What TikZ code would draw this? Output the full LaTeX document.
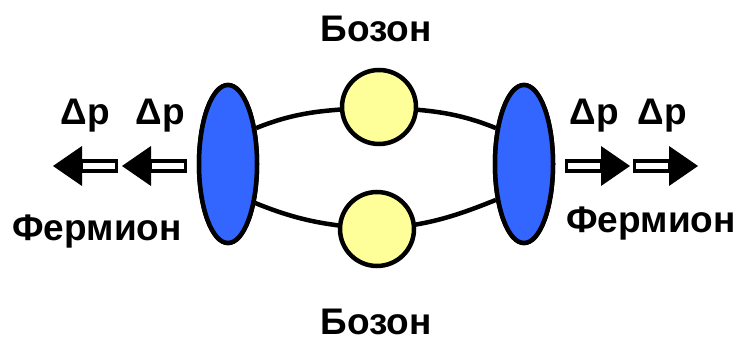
\documentclass[tikz,border=0pt]{standalone}
\usepackage{fontspec}
\setmainfont{Liberation Sans}
\usetikzlibrary{shapes.geometric}
\definecolor{vertexblue}{HTML}{3366FF}
\definecolor{bosonyellow}{HTML}{FFFF99}
\begin{document}
\begin{tikzpicture}[x=1pt,y=1pt,
  vertex/.style={ellipse,draw=black,line width=4.5pt,fill=vertexblue,inner sep=0pt,
    minimum width=58pt,minimum height=158pt},
  boson/.style={circle,draw=black,line width=4.5pt,fill=bosonyellow,inner sep=0pt,
    minimum size=74pt},
  line/.style={line width=4.5pt},
  label/.style={font=\fontsize{37}{44}\selectfont\bfseries,inner sep=0pt},
  kick/.pic={
    \draw[line width=3.5pt,fill=white] (-63.5,-5) rectangle (-28,5);
    \fill (-29,-20) -- (0,0) -- (-29,20) -- cycle;
  }]
\useasboundingbox (0,0) rectangle (741,340);

% propagator lines between the vertices, through the two bosons
\coordinate (B1p) at (379,233);
\coordinate (B2p) at (377,111);
\node[vertex] (L) at (228,176) {};
\node[vertex] (R) at (524,176) {};
\draw[line] (L.52) to[out=22,in=184] (B1p);
\draw[line] (B1p) to[out=-4,in=158] (R.128);
\draw[line] (L.-55) to[out=-22,in=176] (B2p);
\draw[line] (B2p) to[out=4,in=202] (R.-128);
\node[vertex] at (228,176) {};
\node[vertex] at (524,176) {};
\node[boson] (B1) at (B1p) {};
\node[boson] (B2) at (B2p) {};

% labels
\node[label] (bt) at (376,311) {Бозон};
\node[label] (bb) at (376,18) {Бозон};
\node[label,anchor=base] (fl) at (97,99) {Фермион};
\node[label,anchor=base] (fr) at (651,107) {Фермион};
\node[label,anchor=base] (pl1) at (85,215) {Δp};
\node[label,anchor=base] (pl2) at (160,215) {Δp};
\node[label,anchor=base] (pr1) at (594,215) {Δp};
\node[label,anchor=base] (pr2) at (662,215) {Δp};

% momentum transfer arrows
\pic[rotate=180] at (53,174) {kick};
\pic[rotate=180] at (122,174) {kick};
\pic at (630,174) {kick};
\pic at (698,174) {kick};
\end{tikzpicture}
\end{document}
